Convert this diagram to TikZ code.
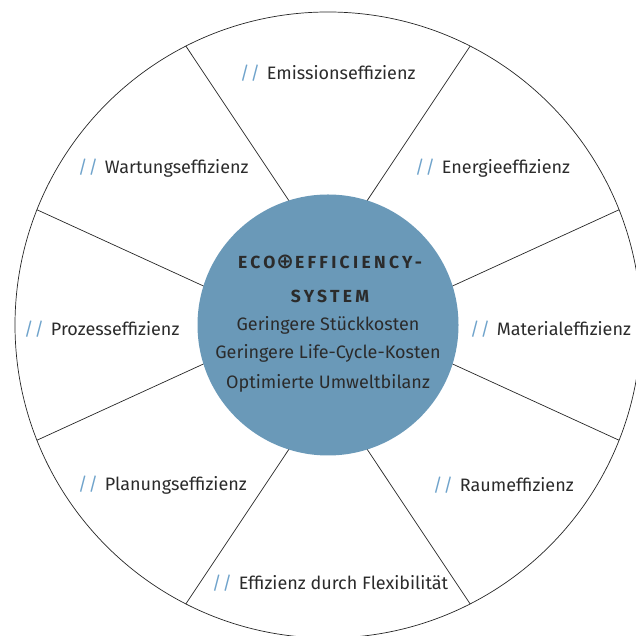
\documentclass[tikz,border=0pt]{standalone}
\usepackage{fontspec}
\setmainfont{Fira Sans}
\newfontfamily\symfont{DejaVu Sans}
\usetikzlibrary{calc}
\definecolor{ecoblue}{HTML}{6A99B8}
\definecolor{slashblue}{HTML}{6FA3CB}
\definecolor{txt}{HTML}{2B2B2B}
\newcommand{\myslash}{{\color{slashblue}/\kern1pt/}\hspace{7pt}}
\begin{document}
\begin{tikzpicture}[x=1pt,y=1pt,
  lbl/.style={anchor=west, inner sep=0, text=txt, font=\fontsize{18}{20}\selectfont},
  ctr/.style={inner sep=0, text=txt, font=\fontsize{18}{20}\selectfont},
  ttl/.style={inner sep=0, text=txt, font=\fontsize{17.5}{20}\selectfont\bfseries\addfontfeatures{LetterSpace=19}},
  spoke/.style={draw=black!85, line width=0.7pt}]
\useasboundingbox (0,0) rectangle (636,636);
\clip (0,0) rectangle (636,636);
\coordinate (C) at (328,311);
% outer circle
\draw[spoke] (C) circle (313);
% spokes
\foreach \a/\b in {72.7/63, 107.3/117, 162.7/158.4, 197.3/201.6, 252.7/243, 287.3/297, 342.7/338.4, 17.3/21.6}{
  \draw[spoke] ($(C)+(\a:129)$) -- ($(C)+(\b:313)$);
}
% core
\node[circle, fill=ecoblue, minimum size=261pt, inner sep=0] (core) at (C) {};
\node[ttl] (t1) at (330,374) {ECO\kern1pt\raisebox{-0.5pt}{\symfont\fontsize{21}{21}\selectfont ⊕}\kern1pt EFFICIENCY-};
\node[ttl] (t2) at (330,340) {SYSTEM};
\node[ctr] (l1) at (328,311) {Geringere Stückkosten};
\node[ctr] (l2) at (328,283) {Geringere Life-Cycle-Kosten};
\node[ctr] (l3) at (328,253) {Optimierte Umweltbilanz};
% labels
\node[lbl] (emi) at (240,563) {\myslash Emissionseffizienz};
\node[lbl] (ene) at (415,468) {\myslash Energieeffizienz};
\node[lbl] (war) at (78,468) {\myslash Wartungseffizienz};
\node[lbl] (pro) at (24,307) {\myslash Prozesseffizienz};
\node[lbl] (mat) at (470,307) {\myslash Materialeffizienz};
\node[lbl] (pla) at (78,151) {\myslash Planungseffizienz};
\node[lbl] (rau) at (433,151) {\myslash Raumeffizienz};
\node[lbl] (fle) at (212,53) {\myslash Effizienz durch Flexibilität};
\end{tikzpicture}
\end{document}
